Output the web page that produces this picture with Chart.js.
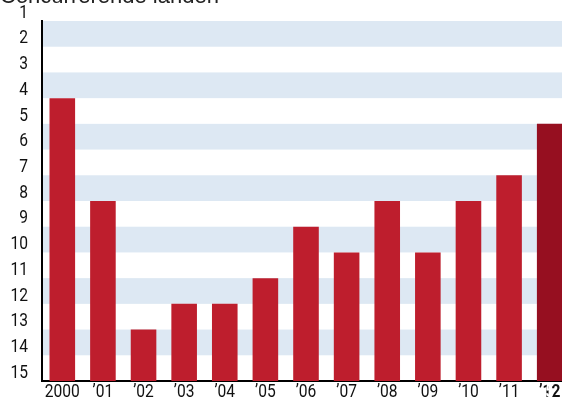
<!DOCTYPE html>
<html>
<head>
<meta charset="UTF-8">
<title>Ranking</title>
<style>
  html, body { margin: 0; padding: 0; background: #fff; overflow: hidden; }
  .chartBox { width: 570px; height: 402px; }
</style>
</head>
<body>
<div class="chartBox">
  <canvas id="myChart"></canvas>
</div>
<script src="https://cdn.jsdelivr.net/npm/chart.js"></script>
<script>
// data (rank, 1 = best)
const years = ["2000", "\u201901", "\u201902", "\u201903", "\u201904", "\u201905", "\u201906", "\u201907", "\u201908", "\u201909", "\u201910", "\u201911", "\u201912"];
const ranks = [4, 8, 13, 12, 12, 11, 9, 10, 8, 10, 8, 7, 5];
const rankTicks = [1, 2, 3, 4, 5, 6, 7, 8, 9, 10, 11, 12, 13, 14, 15];
const titleText = "Concurrerende landen";

const FONT = "Roboto, 'Liberation Sans', sans-serif";
const SQUEEZE = 0.82;   // condensed look for the labels
const RED = '#be1e2d';
const BAND = '#dde8f3';

// alternating bands, under the axis lines
const bands = {
  id: 'bands',
  beforeDraw(chart) {
    const { ctx, chartArea, scales } = chart;
    ctx.save();
    ctx.fillStyle = BAND;
    for (let i = 0; i < rankTicks.length - 1; i += 2) {
      const y1 = scales.y.getPixelForValue(rankTicks[i]);
      const y2 = scales.y.getPixelForValue(rankTicks[i + 1]);
      ctx.fillRect(chartArea.left, y1, chartArea.right - chartArea.left, y2 - y1);
    }
    ctx.restore();
  }
};

function squeezedText(ctx, txt, x, y, align) {
  ctx.save();
  ctx.translate(x, y);
  ctx.scale(SQUEEZE, 1);
  ctx.textAlign = align;
  ctx.fillText(txt, 0, 0);
  ctx.restore();
}

// tick labels, value on last bar, cut title
const labels = {
  id: 'labels',
  afterDraw(chart) {
    const { ctx, scales } = chart;
    const meta = chart.getDatasetMeta(0);
    ctx.save();
    ctx.textBaseline = 'middle';
    ctx.fillStyle = '#111';

    ctx.font = "19px " + FONT;
    rankTicks.forEach(v => {
      squeezedText(ctx, String(v), 28, scales.y.getPixelForValue(v) - 8, 'right');
    });

    years.forEach((t, i) => {
      const last = i === years.length - 1;
      ctx.font = (last ? "bold " : "") + "19px " + FONT;
      squeezedText(ctx, t, scales.x.getPixelForValue(i), 392, 'center');
    });

    const el = meta.data[meta.data.length - 1];
    ctx.fillStyle = '#fff';
    ctx.font = "bold 19px " + FONT;
    squeezedText(ctx, String(ranks[ranks.length - 1]), el.x, el.y + 11, 'center');

    ctx.fillStyle = '#222';
    ctx.font = "22px 'Liberation Sans', sans-serif";
    ctx.textAlign = 'left';
    ctx.textBaseline = 'alphabetic';
    ctx.fillText(titleText, 0, 3);
    ctx.restore();
  }
};

function barColor(c) {
  if (c.dataIndex !== ranks.length - 1) return RED;
  const el = c.chart.getDatasetMeta(0).data[c.dataIndex];
  if (!el || !isFinite(el.x)) return '#960f20';
  const g = c.chart.ctx.createLinearGradient(el.x - el.width / 2, 0, el.x + el.width / 2, 0);
  g.addColorStop(0, '#820818');
  g.addColorStop(1, '#a01424');
  return g;
}

const data = {
  labels: years,
  datasets: [{
    data: ranks.map(r => [15, r]),
    backgroundColor: barColor,
    borderWidth: 0,
    barPercentage: 0.63,
    categoryPercentage: 1
  }]
};

const config = {
  type: 'bar',
  data,
  plugins: [bands, labels],
  options: {
    responsive: true,
    maintainAspectRatio: false,
    animation: false,
    layout: { padding: { top: 21, right: 0, bottom: 0, left: 0 } },
    plugins: { legend: { display: false }, tooltip: { enabled: false } },
    scales: {
      x: {
        afterFit: s => { s.height = 21; },
        grid: { display: false, drawTicks: false },
        border: { display: true, color: '#000', width: 2 },
        ticks: { display: false }
      },
      y: {
        reverse: true,
        min: 1,
        max: 15,
        afterFit: s => { s.width = 42; },
        grid: { display: false, drawTicks: false },
        border: { display: true, color: '#000', width: 2 },
        ticks: { display: false, stepSize: 1 }
      }
    }
  }
};

const myChart = new Chart(document.getElementById('myChart'), config);
</script>
</body>
</html>
